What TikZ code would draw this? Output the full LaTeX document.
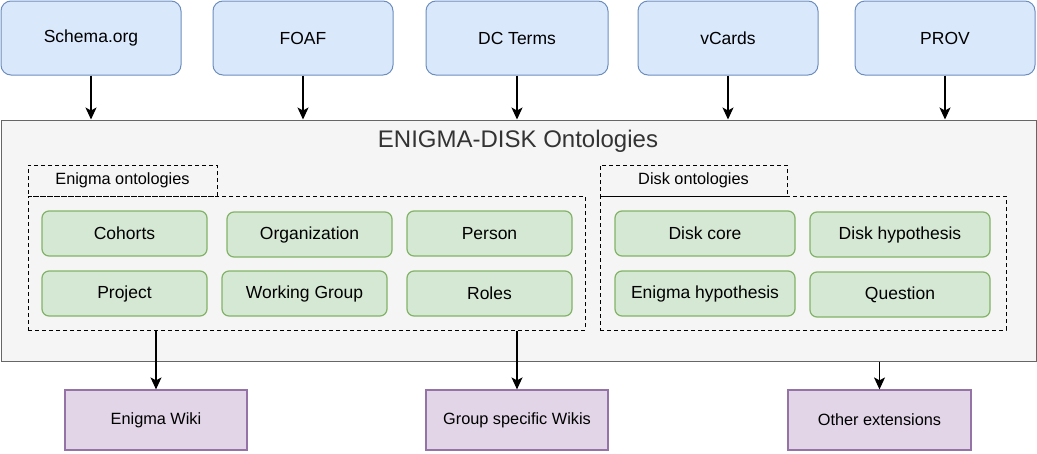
\documentclass[tikz,border=0pt]{standalone}
\usepackage{fontspec}
\setmainfont{Liberation Sans}
\usepackage{tikz}
\usetikzlibrary{arrows.meta}
\definecolor{bluefill}{RGB}{218,232,252}
\definecolor{blueline}{RGB}{108,142,191}
\definecolor{greenfill}{RGB}{213,232,212}
\definecolor{greenline}{RGB}{130,179,102}
\definecolor{purplefill}{RGB}{225,213,231}
\definecolor{purpleline}{RGB}{150,115,166}
\definecolor{grayfill}{RGB}{245,245,245}
\definecolor{grayline}{RGB}{102,102,102}
\definecolor{titletext}{RGB}{51,51,51}
\tikzset{%
    vocab/.style={%
        draw=blueline, fill=bluefill, rounded corners=10pt, line width=1pt,
        minimum width=180pt, minimum height=74pt, inner sep=0pt,
        font=\fontsize{17.5}{20}\selectfont},
    onto/.style={%
        draw=greenline, fill=greenfill, rounded corners=7pt, line width=1.2pt,
        minimum width=165pt, minimum height=45pt, inner sep=0pt,
        font=\fontsize{17.5}{20}\selectfont},
    wiki/.style={%
        draw=purpleline, fill=purplefill, line width=1.2pt,
        minimum width=182pt, minimum height=60pt, inner sep=0pt,
        font=\fontsize{16.3}{19}\selectfont},
    group/.style={%
        draw=black, line width=1pt, dash pattern=on 4pt off 3pt, inner sep=0pt},
    tabbox/.style={%
        group, minimum height=31pt, font=\fontsize{16.3}{19}\selectfont},
    arr/.style={%
        -{Stealth[length=12pt,width=11pt,inset=3pt]}, line width=1.2pt}
}
\begin{document}
\begin{tikzpicture}[x=1pt,y=-1pt]
    \useasboundingbox (0,0) rectangle (1037,453);
%-----------------------------------------------
    \node[draw=grayline, fill=grayfill, line width=1pt, minimum width=1035pt,
        minimum height=241pt, inner sep=0pt] (main) at (518.5,240.5) {};
    \node[text=titletext, font=\fontsize{24}{28}\selectfont] (title) at (518,141)
        {ENIGMA-DISK Ontologies};
%-----------------------------------------------
    \node[vocab] (schema) at (91,38) {Schema.org};
    \node[vocab] (foaf) at (303,38) {FOAF};
    \node[vocab, minimum width=182pt] (dcterms) at (517,38) {DC Terms};
    \node[vocab] (vcards) at (728,38) {vCards};
    \node[vocab] (prov) at (945,38) {PROV};
%-----------------------------------------------
    \node[tabbox, minimum width=189pt] (enigmatab) at (122.5,180.5) {Enigma ontologies};
    \node[group, minimum width=557pt, minimum height=134pt] (enigmabox) at (306.5,263) {};
    \node[tabbox, minimum width=187pt] (disktab) at (693.5,180.5) {Disk ontologies};
    \node[group, minimum width=406pt, minimum height=134pt] (diskbox) at (803,263) {};
%-----------------------------------------------
    \node[onto] (cohorts) at (124.5,233.5) {Cohorts};
    \node[onto] (organization) at (309.5,234.5) {Organization};
    \node[onto] (person) at (489.5,233.5) {Person};
    \node[onto] (project) at (124.5,293.5) {Project};
    \node[onto] (workgroup) at (304.5,293.5) {Working Group};
    \node[onto] (roles) at (489.5,293.5) {Roles};
%-----------------------------------------------
    \node[onto, minimum width=180pt] (diskcore) at (705,233.5) {Disk core};
    \node[onto, minimum width=180pt] (diskhyp) at (900,234.5) {Disk hypothesis};
    \node[onto, minimum width=180pt] (enigmahyp) at (705,293.5) {Enigma hypothesis};
    \node[onto, minimum width=180pt] (question) at (900,294.5) {Question};
%-----------------------------------------------
    \node[wiki] (enigmawiki) at (156,420) {Enigma Wiki};
    \node[wiki] (groupwikis) at (517,420) {Group specific Wikis};
    \node[wiki, minimum width=183pt] (otherext) at (879.5,420) {Other extensions};
%-----------------------------------------------
    \draw[arr] (schema) -- (schema |- main.north);
    \draw[arr] (foaf) -- (foaf |- main.north);
    \draw[arr] (dcterms) -- (dcterms |- main.north);
    \draw[arr] (vcards) -- (vcards |- main.north);
    \draw[arr] (prov) -- (prov |- main.north);
%-----------------------------------------------
    \draw[arr] (enigmawiki |- enigmabox.south) -- (enigmawiki);
    \draw[arr] (groupwikis |- enigmabox.south) -- (groupwikis);
    \draw[arr] (otherext |- main.south) -- (otherext);
\end{tikzpicture}
\end{document}
